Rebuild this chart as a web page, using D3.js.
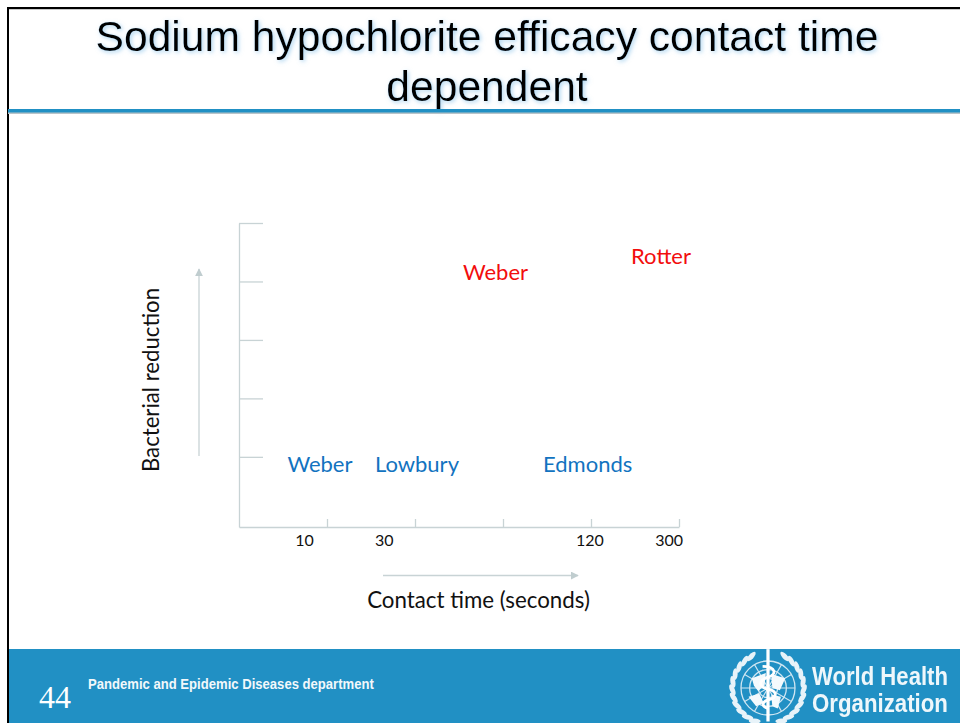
<!DOCTYPE html>
<html>
<head>
<meta charset="utf-8">
<script src="https://cdnjs.cloudflare.com/ajax/libs/d3/7.8.5/d3.min.js"></script>
<style>
html, body { margin: 0; padding: 0; background: #fff; }
svg { display: block; }
text { font-family: Lato, sans-serif; }
.title { font-family: "Liberation Sans", Arial, sans-serif; font-size: 42.6px; fill: #050505; text-anchor: middle; }
.axis path, .axis line { stroke: #c8d3d5; stroke-width: 1.3px; fill: none; }
</style>
</head>
<body>
<div id="chart"></div>
<script>
var titleLines = ["Sodium hypochlorite efficacy contact time", "dependent"];

// x axis has five equal divisions, the labels sit off the ticks in the original
var xDivisions = [0, 1, 2, 3, 4, 5];
var xTickLabels = ["10", "30", "120", "300"];
var xTickLabelPos = [0.64, 1.545, 3.83, 4.73];

// y axis has no numbers, only five unlabelled levels
var yLevels = [1, 2, 3, 4, 5];

var studies = ["Weber", "Lowbury", "Edmonds", "Weber", "Rotter"];
var studyX = [0.55, 1.545, 3.455, 2.545, 4.455];
var studyY = [0.74, 0.74, 0.74, 4.03, 4.30];
var studyGroup = ["low", "low", "low", "high", "high"];

var groupColor = { low: "#1273c0", high: "#f20d0d" };

var width = 960, height = 723;
var blue = "#2190c4";

var svg = d3.select("#chart").append("svg")
    .attr("width", width)
    .attr("height", height);

var defs = svg.append("defs");

var glow = defs.append("filter").attr("id", "glow")
    .attr("x", "-5%").attr("y", "-20%").attr("width", "110%").attr("height", "140%");
glow.append("feDropShadow")
    .attr("dx", 1.5).attr("dy", 1.5).attr("stdDeviation", 2.2)
    .attr("flood-color", "#6fb6e4").attr("flood-opacity", 0.6);

var soft = defs.append("filter").attr("id", "soft");
soft.append("feGaussianBlur").attr("stdDeviation", 0.6);

var marker = defs.append("marker").attr("id", "arrow")
    .attr("viewBox", "0 0 10 10")
    .attr("refX", 9).attr("refY", 5)
    .attr("markerUnits", "userSpaceOnUse")
    .attr("markerWidth", 8).attr("markerHeight", 8)
    .attr("orient", "auto");
marker.append("path").attr("d", "M0,0L10,5L0,10Z").attr("fill", "#c0cdcf");

// slide frame
svg.append("rect").attr("x", 7).attr("y", 7).attr("width", 2).attr("height", height - 7).attr("fill", "#000");
svg.append("rect").attr("x", 7).attr("y", 7).attr("width", width - 7).attr("height", 2).attr("fill", "#000");
svg.append("rect").attr("x", 9).attr("y", 9).attr("width", width - 9).attr("height", 1).attr("fill", "#c9c9c9");

svg.selectAll(".title").data(titleLines).enter().append("text")
    .attr("class", "title")
    .attr("x", 487)
    .attr("y", function(d, i) { return 51 + i * 50; })
    .attr("filter", "url(#glow)")
    .text(function(d) { return d; });

svg.append("rect").attr("x", 8).attr("y", 112).attr("width", width - 8).attr("height", 2).attr("fill", "#b9c4c9");
svg.append("rect").attr("x", 8).attr("y", 109).attr("width", width - 8).attr("height", 3.5).attr("fill", blue);

// axes
var x = d3.scaleLinear().domain([0, 5]).range([239, 679]);
var y = d3.scaleLinear().domain([-0.2, 5]).range([527, 223]);

svg.append("g")
    .attr("class", "axis")
    .attr("transform", "translate(0," + y(-0.2) + ")")
    .call(d3.axisTop(x).tickValues(xDivisions.slice(1)).tickSize(8).tickSizeOuter(0).tickFormat(""));

svg.append("g")
    .attr("class", "axis")
    .attr("transform", "translate(" + x(0) + ",0)")
    .call(d3.axisRight(y).tickValues(yLevels).tickSize(24).tickSizeOuter(0).tickFormat(""));

svg.selectAll(".xlabel").data(xTickLabels).enter().append("text")
    .attr("class", "xlabel")
    .attr("x", function(d, i) { return x(xTickLabelPos[i]); })
    .attr("y", 546)
    .attr("font-size", 16)
    .attr("fill", "#111")
    .text(function(d) { return d; });

svg.selectAll(".study").data(studies).enter().append("text")
    .attr("class", "study")
    .attr("x", function(d, i) { return x(studyX[i]); })
    .attr("y", function(d, i) { return y(studyY[i]); })
    .attr("font-size", 22)
    .attr("fill", function(d, i) { return groupColor[studyGroup[i]]; })
    .text(function(d) { return d; });

// direction arrows
svg.append("line")
    .attr("x1", 199).attr("y1", 456).attr("x2", 199).attr("y2", 269)
    .attr("stroke", "#c8d3d5").attr("stroke-width", 1.3)
    .attr("marker-end", "url(#arrow)");
svg.append("line")
    .attr("x1", 383).attr("y1", 575.5).attr("x2", 578).attr("y2", 575.5)
    .attr("stroke", "#c8d3d5").attr("stroke-width", 1.3)
    .attr("marker-end", "url(#arrow)");

svg.append("text")
    .attr("transform", "translate(159,380) rotate(-90)")
    .attr("text-anchor", "middle")
    .attr("font-size", 22.2)
    .attr("fill", "#111")
    .text("Bacterial reduction");

svg.append("text")
    .attr("x", 478.5).attr("y", 608)
    .attr("text-anchor", "middle")
    .attr("font-size", 22.3)
    .attr("fill", "#111")
    .text("Contact time (seconds)");

// footer
svg.append("rect").attr("x", 9).attr("y", 649).attr("width", width - 9).attr("height", 74).attr("fill", blue);

svg.append("text")
    .attr("x", 39).attr("y", 708)
    .attr("fill", "#fff")
    .attr("font-size", 32)
    .style("font-family", "'Liberation Serif', serif")
    .text("44");

// squeeze a text to a pixel width, no narrow font to rely on
function fitWidth(sel, w) {
    sel.each(function() {
        var t = d3.select(this);
        var k = w / this.getComputedTextLength();
        t.attr("transform", "translate(" + t.attr("data-x") + "," + t.attr("data-y") + ") scale(" + k + ",1)");
    });
}

svg.append("text")
    .attr("data-x", 88).attr("data-y", 689)
    .attr("fill", "#f2f8fb")
    .attr("font-size", 14)
    .attr("font-weight", "bold")
    .style("font-family", "'Liberation Sans', sans-serif")
    .text("Pandemic and Epidemic Diseases department")
    .call(fitWidth, 286);

// WHO emblem, rough
var logo = svg.append("g")
    .attr("transform", "translate(768,688) scale(1.08)")
    .attr("filter", "url(#soft)");

[9, 17, 25].forEach(function(r) {
    logo.append("circle").attr("r", r)
        .attr("fill", "none").attr("stroke", "#cfe6f2").attr("stroke-width", 1.2);
});
d3.range(0, 180, 30).forEach(function(a) {
    logo.append("line")
        .attr("x1", -25).attr("x2", 25)
        .attr("transform", "rotate(" + a + ")")
        .attr("stroke", "#cfe6f2").attr("stroke-width", 1);
});
[-1, 1].forEach(function(side) {
    d3.range(-62, 72, 13).forEach(function(a) {
        var t = a * Math.PI / 180;
        logo.append("ellipse")
            .attr("rx", 2.3).attr("ry", 5.5)
            .attr("transform", "translate(" + (side * 33 * Math.cos(t)) + "," + (33 * Math.sin(t)) + ") rotate(" + (side * (a + 20)) + ")")
            .attr("fill", "#e8f3f9");
    });
});
logo.append("path")
    .attr("d", "M-15,-9L-2,-14L-3,-3L-9,3L-13,-2ZM3,-13L16,-9L11,2L4,0ZM-18,8L-8,5L-4,14L-11,17ZM3,6L12,8L9,19L4,17Z")
    .attr("fill", "#f4fafd");
logo.append("line").attr("y1", -36).attr("y2", 31).attr("stroke", "#fff").attr("stroke-width", 3);
logo.append("path")
    .attr("d", "M-5,-20C8,-20 8,-12 0,-10C-9,-7 -9,-1 0,1C9,3 9,9 0,11C-6,13 -6,17 0,19")
    .attr("fill", "none").attr("stroke", "#fff").attr("stroke-width", 2.6);

var whoLines = ["World Health", "Organization"];
svg.selectAll(".who").data(whoLines).enter().append("text")
    .attr("class", "who")
    .attr("data-x", 812)
    .attr("data-y", function(d, i) { return 685 + i * 27; })
    .attr("fill", "#eef7fb")
    .attr("font-size", 25)
    .attr("font-weight", "bold")
    .attr("filter", "url(#soft)")
    .style("font-family", "'Liberation Sans', sans-serif")
    .text(function(d) { return d; })
    .call(fitWidth, 136);
</script>
</body>
</html>
